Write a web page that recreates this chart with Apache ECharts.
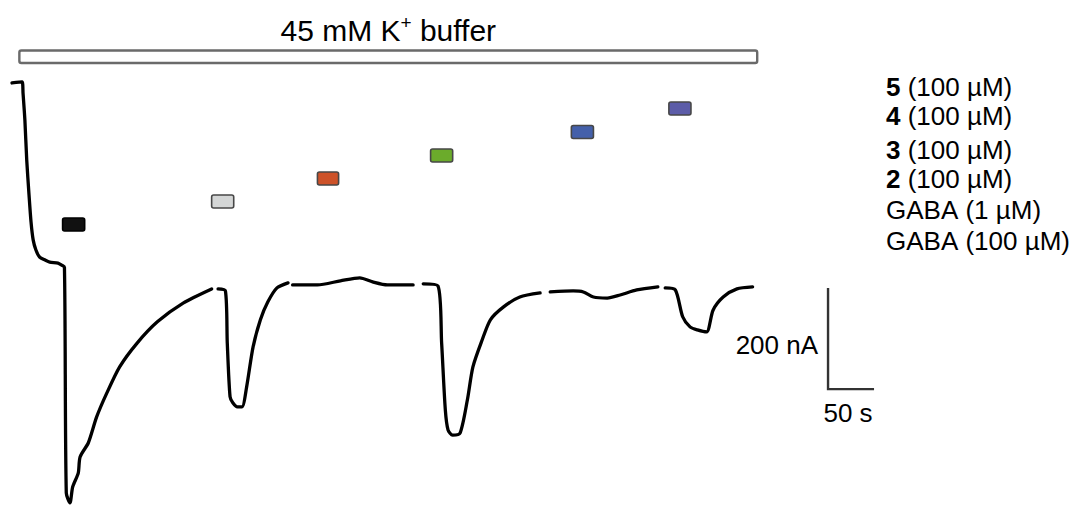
<!DOCTYPE html>
<html>
<head>
<meta charset="utf-8">
<script src="https://cdn.jsdelivr.net/npm/echarts/dist/echarts.min.js"></script>
<style>
html,body{margin:0;padding:0;background:#fff;}
#chart{width:1074px;height:506px;}
</style>
</head>
<body>
<div id="chart"></div>
<script>
// ---- data (time in s, current in nA; null = gap in the recording trace) ----
const traceTime = [0, 11, 12, 14, 16, 18.5, 20.7, 23, 26, 30, 36, 41, 50, 54, 57, 59, 63, 66, 72, 74, 83, 92, 103, 117, 136, 158, 186, 217, 220,
  224, 232, 234, 237, 240, 245, 250, 255, 262, 270, 278, 288, 300, 302,
  305, 332, 357, 378, 392, 408, 436, 441,
  447, 463, 467, 471, 474, 479, 487, 495, 501, 511, 520, 534, 552, 574, 579,
  585, 610, 621, 632, 647, 661, 679, 702, 706,
  710, 721, 729, 737, 745, 755, 762, 773, 788, 805];
const traceCurrent = [0, 2, -20, -73, -152, -221, -275, -310, -330, -344, -350, -354, -356, -360, -364, -810, -830, -798, -771, -739, -711, -660, -613, -561, -514, -472, -435, -407, null,
  -407, -411, -514, -620, -632, -640, -640, -601, -522, -468, -433, -405, -395, null,
  -399, -399, -391, -385, -393, -399, -399, null,
  -397, -401, -514, -646, -686, -696, -692, -626, -561, -508, -468, -443, -423, -415, null,
  -413, -411, -413, -423, -425, -419, -409, -403, null,
  -405, -409, -462, -482, -488, -492, -449, -423, -407, -403];

// drug applications (start / end, s), bottom to top row
const appStart = [55, 217, 332, 455, 608, 714];
const appEnd   = [79, 241, 355, 479, 632, 738];
// legend entries, top to bottom
const legendCompound = ['5', '4', '3', '2', 'GABA', 'GABA'];
const legendConc = ['(100 µM)', '(100 µM)', '(100 µM)', '(100 µM)', '(1 µM)', '(100 µM)'];
const legendBold = [true, true, true, true, false, false];
// buffer application (s)
const bufferRange = [8, 810];
const bufferLabel = '45 mM K';
const bufferLabelSup = '+';
const bufferLabelTail = ' buffer';
// scale bar sizes
const scaleTime = 50;      // s
const scaleCurrent = 200;  // nA
const scaleTimeLabel = '50 s';
const scaleCurrentLabel = '200 nA';

// ---- styles / layout ----
const appColors = ['#111111', '#d4d6d6', '#cd5229', '#6bab2b', '#4460aa', '#5c5ca8'];
const appRowY = [224.5, 201.5, 178.5, 155.5, 132, 108.5];   // px
const legendY = [86, 115, 148.5, 177.5, 208.5, 240];        // px
const scaleAnchor = [887, -605];                             // s, nA (corner of scale bar)
const FONT = '"Liberation Sans", Arial, Helvetica, sans-serif';

const chart = echarts.init(document.getElementById('chart'), null, {renderer: 'svg'});

const traceData = traceTime.map((t, i) => [t, traceCurrent[i] === null ? '-' : traceCurrent[i]]);
const appData = appStart.map((s, i) => [s, appEnd[i], i]);

const option = {
  animation: false,
  backgroundColor: '#ffffff',
  grid: {left: 12, top: 0, width: 1058, height: 506, containLabel: false},
  xAxis: {type: 'value', min: 0, max: 1150, show: false},
  yAxis: {type: 'value', min: -836, max: 164, show: false},
  series: [
    {
      type: 'line',
      data: traceData,
      showSymbol: false,
      connectNulls: false,
      smooth: 0.25,
      lineStyle: {color: '#000', width: 3.3, join: 'round', cap: 'round'},
      z: 5
    },
    {
      type: 'custom',
      data: appData,
      renderItem: function (params, api) {
        const i = api.value(2);
        const p0 = api.coord([api.value(0), 0]);
        const p1 = api.coord([api.value(1), 0]);
        const yc = appRowY[i];
        return {
          type: 'rect',
          shape: {x: p0[0], y: yc - 6.5, width: p1[0] - p0[0], height: 13, r: 2},
          style: {fill: appColors[i], stroke: i === 0 ? '#000' : '#474747', lineWidth: 1.6}
        };
      },
      z: 4
    },
    {
      type: 'custom',
      data: [[bufferRange[0], bufferRange[1]]],
      renderItem: function (params, api) {
        const p0 = api.coord([api.value(0), 0]);
        const p1 = api.coord([api.value(1), 0]);
        return {
          type: 'group',
          children: [
            {
              type: 'rect',
              shape: {x: p0[0], y: 50.5, width: p1[0] - p0[0], height: 12.5, r: 2},
              style: {fill: '#fff', stroke: '#6a6a6a', lineWidth: 2.4}
            },
            {
              type: 'text',
              x: (p0[0] + p1[0]) / 2, y: 30,
              style: {
                text: '{a|' + bufferLabel + '}{s|' + bufferLabelSup + '}{a|' + bufferLabelTail + '}',
                align: 'center', verticalAlign: 'middle',
                rich: {
                  a: {fontSize: 30, fontFamily: FONT, fill: '#000', lineHeight: 34},
                  s: {fontSize: 19, fontFamily: FONT, fill: '#000', verticalAlign: 'top', lineHeight: 34, padding: [0, 0, 14, 0]}
                }
              }
            }
          ]
        };
      },
      z: 3
    },
    {
      type: 'custom',
      data: [[scaleAnchor[0], scaleAnchor[1]]],
      renderItem: function (params, api) {
        const c = api.coord([api.value(0), api.value(1)]);
        const top = api.coord([api.value(0), api.value(1) + scaleCurrent]);
        const right = api.coord([api.value(0) + scaleTime, api.value(1)]);
        return {
          type: 'group',
          children: [
            {type: 'polyline', shape: {points: [top, c, right]},
             style: {stroke: '#333', lineWidth: 2.4, fill: null}},
            {type: 'text', x: c[0] - 10, y: (top[1] + c[1]) / 2 + 6,
             style: {text: scaleCurrentLabel, align: 'right', verticalAlign: 'middle',
                     fontSize: 26, fontFamily: FONT, fill: '#000'}},
            {type: 'text', x: (c[0] + right[0]) / 2 - 3, y: c[1] + 24,
             style: {text: scaleTimeLabel, align: 'center', verticalAlign: 'middle',
                     fontSize: 26, fontFamily: FONT, fill: '#000'}}
          ]
        };
      },
      z: 3
    }
  ],
  graphic: legendCompound.map((c, i) => ({
    type: 'text',
    left: 886,
    top: legendY[i] - 12,
    style: {
      text: (legendBold[i] ? '{b|' + c + '}' : '{n|' + c + '}') + '{n| ' + legendConc[i] + '}',
      rich: {
        b: {fontSize: 26, fontWeight: 'bold', fontFamily: FONT, fill: '#000', lineHeight: 24},
        n: {fontSize: 26, fontFamily: FONT, fill: '#000', lineHeight: 24}
      }
    }
  }))
};

chart.setOption(option);
</script>
</body>
</html>
